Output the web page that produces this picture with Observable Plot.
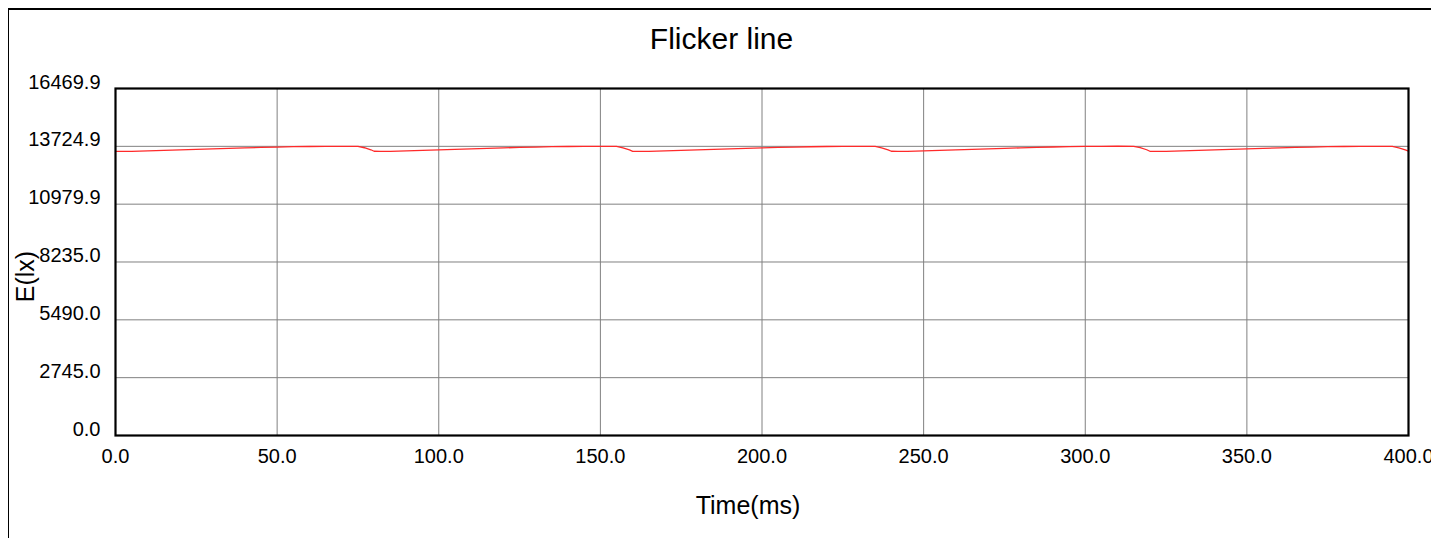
<!DOCTYPE html>
<html>
<head>
<meta charset="utf-8">
<script src="https://cdn.jsdelivr.net/npm/d3@7"></script>
<script src="https://cdn.jsdelivr.net/npm/@observablehq/plot@0.6"></script>
<style>
  html, body { margin: 0; padding: 0; background: white; }
  #wrap { position: relative; width: 1431px; height: 538px; overflow: hidden; background: white; }
  #border { position: absolute; left: 8px; top: 8px; width: 2000px; height: 2000px;
            border-top: 2px solid black; border-left: 1.5px solid black; box-sizing: border-box; pointer-events: none; }
  #chart { position: absolute; left: 0; top: 0; }
</style>
</head>
<body>
<div id="wrap"><div id="chart"></div><div id="border"></div></div>
<script>
const titleText = "Flicker line";
const xLabelText = "Time(ms)";
const yLabelText = "E(lx)";

const xTicks = [0, 50, 100, 150, 200, 250, 300, 350, 400];
const xTickLabels = ["0.0", "50.0", "100.0", "150.0", "200.0", "250.0", "300.0", "350.0", "400.0"];
const yTicks = [0, 2745.0, 5490.0, 8235.0, 10979.9, 13724.9, 16469.9];
const yTickLabels = ["0.0", "2745.0", "5490.0", "8235.0", "10979.9", "13724.9", "16469.9"];

const timeMs = [
  0, 2, 5, 10, 15, 20, 25, 30, 35, 40, 45, 50, 55, 60, 65, 70, 75, 77, 79,
  80, 82, 85, 90, 95, 100, 105, 110, 115, 120, 125, 130, 135, 140, 145, 150, 155, 157, 159,
  160, 162, 165, 170, 175, 180, 185, 190, 195, 200, 205, 210, 215, 220, 225, 230, 235, 237, 239,
  240, 242, 245, 250, 255, 260, 265, 270, 275, 280, 285, 290, 295, 300, 305, 310, 315, 317, 319,
  320, 322, 325, 330, 335, 340, 345, 350, 355, 360, 365, 370, 375, 380, 385, 390, 395, 397, 399,
  400
];
const luxValues = [
  13490, 13484, 13488, 13510, 13534, 13557, 13581, 13604, 13627, 13649, 13671, 13691, 13707, 13717, 13723, 13726, 13721, 13658, 13562,
  13492, 13482, 13486, 13509, 13536, 13559, 13583, 13606, 13628, 13651, 13673, 13692, 13708, 13718, 13724, 13727, 13720, 13655, 13559,
  13489, 13481, 13487, 13511, 13535, 13556, 13580, 13603, 13626, 13650, 13672, 13690, 13706, 13716, 13722, 13725, 13719, 13657, 13561,
  13491, 13483, 13489, 13512, 13537, 13560, 13584, 13607, 13629, 13652, 13674, 13693, 13709, 13719, 13725, 13728, 13722, 13660, 13563,
  13490, 13482, 13487, 13510, 13535, 13558, 13582, 13605, 13627, 13650, 13672, 13691, 13707, 13717, 13723, 13726, 13720, 13656, 13560,
  13500
];

const series = timeMs.map((t, i) => ({t, e: luxValues[i]}));
const xTickData = xTicks.map((v, i) => ({v, label: xTickLabels[i]}));
const yTickData = yTicks.map((v, i) => ({v, label: yTickLabels[i]}));

const chart = Plot.plot({
  width: 1431,
  height: 538,
  marginLeft: 115,
  marginRight: 23,
  marginTop: 88,
  marginBottom: 103,
  style: {fontFamily: "'Liberation Sans', Arial, sans-serif", background: "transparent", overflow: "visible", color: "black"},
  x: {domain: [0, 400], axis: null},
  y: {domain: [0, 16469.9], axis: null},
  marks: [
    Plot.gridX(xTicks, {stroke: "#808080", strokeOpacity: 1, strokeWidth: 1}),
    Plot.gridY(yTicks, {stroke: "#808080", strokeOpacity: 1, strokeWidth: 1}),
    Plot.line(series, {x: "t", y: "e", stroke: "#ff2a2a", strokeWidth: 1.3}),
    Plot.frame({stroke: "black", strokeWidth: 2.2}),
    Plot.text(yTickData, {y: "v", text: "label", frameAnchor: "left", textAnchor: "end", lineAnchor: "middle", dx: -15, dy: -6.4, fontSize: 20, fill: "black"}),
    Plot.text(xTickData, {x: "v", text: "label", frameAnchor: "bottom", textAnchor: "middle", lineAnchor: "middle", dy: 20.6, fontSize: 20, fill: "black"}),
    Plot.text([titleText], {text: d => d, frameAnchor: "top", textAnchor: "middle", lineAnchor: "middle", dx: -40.5, dy: -49.3, fontSize: 30, fill: "black"}),
    Plot.text([xLabelText], {text: d => d, frameAnchor: "bottom", textAnchor: "middle", lineAnchor: "middle", dx: -14, dy: 70, fontSize: 25, fill: "black"}),
    Plot.text([yLabelText], {text: d => d, frameAnchor: "left", textAnchor: "middle", lineAnchor: "middle", rotate: -90, dx: -90, dy: 14.5, fontSize: 25, fill: "black"})
  ]
});
document.getElementById("chart").appendChild(chart);
</script>
</body>
</html>
